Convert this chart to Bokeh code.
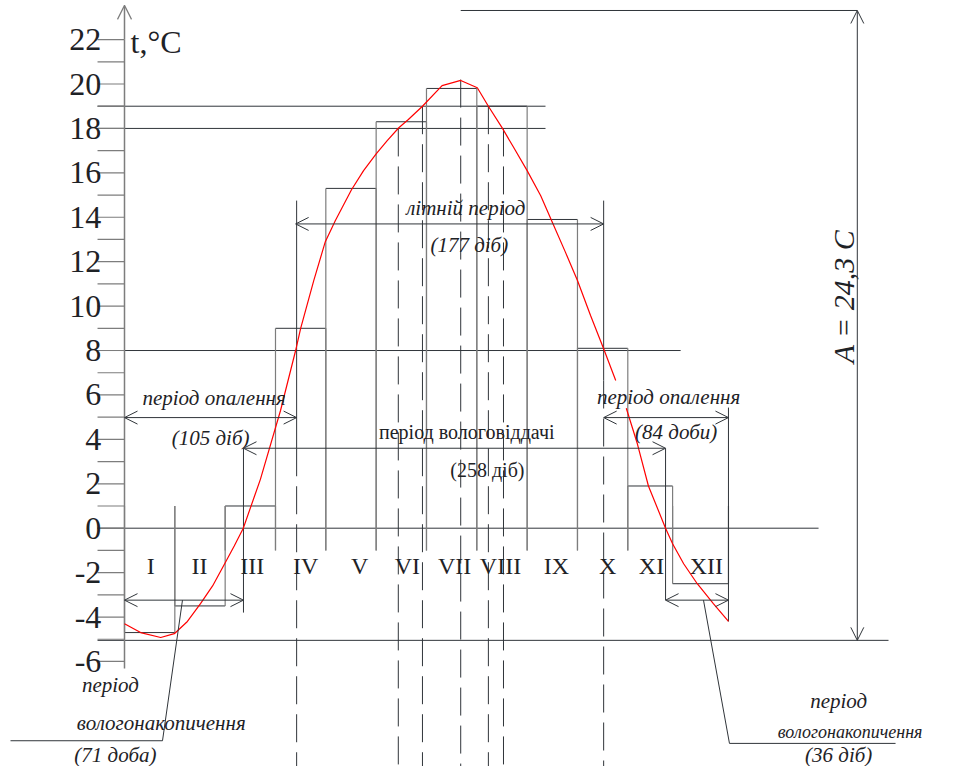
import numpy as np
from bokeh.plotting import figure
from bokeh.models import Range1d, Arrow, OpenHead, ColumnDataSource
from bokeh.core.properties import value
from bokeh.embed import file_html
from bokeh.resources import INLINE

# ---------------- data ----------------
months = ["I", "II", "III", "IV", "V", "VI", "VII", "VIII", "IX", "X", "XI", "XII"]
month_temp = [-4.7, -3.5, 1.0, 9.0, 15.3, 18.3, 19.8, 19.0, 13.9, 8.1, 1.9, -2.5]
bar_left = [0, 1, 2, 3, 4, 5, 6, 7, 8, 9, 10, 10.89]
bar_right = [1, 2, 3, 4, 5, 6, 7, 8, 9, 10, 10.89, 12]

# smooth annual course of temperature (red curve), x in months
curve1_m = [0.00, 0.32, 0.72, 0.99, 1.25, 1.51, 1.75, 1.99, 2.18, 2.36, 2.70, 3.10, 3.40,
            3.50, 3.76, 3.99, 4.19, 4.51, 4.75, 5.00, 5.22, 5.45, 5.64, 5.92, 6.31, 6.68,
            7.01, 7.23, 7.51, 7.73, 8.00, 8.27, 8.50, 8.76, 9.00, 9.26, 9.52, 9.76]
curve1_t = [-4.30, -4.70, -4.92, -4.75, -4.20, -3.40, -2.60, -1.60, -0.80, 0.00, 2.20, 5.30, 8.00,
            9.00, 11.15, 12.90, 13.85, 15.24, 16.10, 16.85, 17.45, 18.03, 18.40, 19.00, 19.93, 20.16,
            19.83, 19.00, 18.00, 17.15, 16.10, 14.97, 13.78, 12.43, 11.15, 9.58, 8.08, 6.65]
curve2_m = [9.97, 10.19, 10.41, 10.75, 10.89, 11.11, 11.38, 11.70, 12.00]
curve2_t = [5.40, 3.80, 1.90, 0.00, -0.70, -1.60, -2.50, -3.40, -4.20]

y_ticks = list(range(-6, 23))
y_label_values = list(range(-6, 23, 2))
y_tick_labels = [str(v) for v in y_label_values]

comfort_levels = [19.0, 18.0]
mean_temp = 8.0
min_temp = -5.05
amp_top = 23.31

# characteristic moments (months)
t_cross_mean_up = 3.42
t_cross_mean_down = 9.52
t_cross_zero_up = 2.364
t_cross_zero_down = 10.75
dash_m = [3.42, 5.44, 5.92, 6.68, 7.23, 7.53, 9.52]
dash_top = [3.6, 18.0, 19.0, 20.2, 19.0, 18.0, 6.65]

# ---------------- figure ----------------
DARK = "#30353a"
GREY = "#7d7d7d"
TXT = "#1e2226"

p = figure(width=943, height=766,
           x_range=Range1d(-2.4638, 16.2726), y_range=Range1d(-10.73, 23.76),
           output_backend="svg", toolbar_location=None,
           x_axis_type=None, y_axis_type=None, min_border=0)
p.outline_line_color = None
p.background_fill_color = "white"
p.border_fill_color = "white"

# horizontal reference lines
x_left_ext = -0.536
p.segment(x0=[x_left_ext] * 2, y0=comfort_levels, x1=[8.365] * 2, y1=comfort_levels,
          line_color=DARK, line_width=1)
p.segment(x0=[x_left_ext], y0=[mean_temp], x1=[11.05], y1=[mean_temp], line_color=DARK, line_width=1)
p.segment(x0=[x_left_ext], y0=[0], x1=[13.79], y1=[0], line_color=DARK, line_width=1)
p.segment(x0=[x_left_ext], y0=[min_temp], x1=[15.18], y1=[min_temp], line_color=DARK, line_width=1)
p.segment(x0=[6.68], y0=[amp_top], x1=[14.56], y1=[amp_top], line_color=DARK, line_width=1)

# monthly bars (stepped outline)
base = [-1.0 if t > 0 else 1.0 for t in month_temp]
p.segment(x0=bar_left, y0=month_temp, x1=bar_right, y1=month_temp, line_color=DARK, line_width=1)
p.segment(x0=bar_left, y0=month_temp, x1=bar_left, y1=base, line_color=GREY, line_width=1.2)
p.segment(x0=bar_right, y0=month_temp, x1=bar_right, y1=base, line_color=GREY, line_width=1.2)

# dashed verticals at characteristic moments
p.segment(x0=dash_m, y0=dash_top, x1=dash_m, y1=[-11.6] * len(dash_m),
          line_color=DARK, line_width=1, line_dash="28 10")

# solid extension lines
ext_x = [t_cross_zero_up, t_cross_zero_down, t_cross_mean_up, t_cross_mean_down, 12.0]
ext_top = [3.6, 3.6, 14.75, 14.75, 5.43]
ext_bot = [-3.8, -3.24, 3.6, 6.65, -4.2]
p.segment(x0=ext_x, y0=ext_top, x1=ext_x, y1=ext_bot, line_color=DARK, line_width=1)

# y axis with ticks
p.segment(x0=[0], y0=[-6.32], x1=[0], y1=[22], line_color=GREY, line_width=1.5)
p.add_layout(Arrow(end=OpenHead(size=14, line_color=GREY, line_width=1.2),
                   x_start=0, y_start=22, x_end=0, y_end=23.54,
                   line_color=GREY, line_width=1.5))
p.segment(x0=[x_left_ext] * len(y_ticks), y0=y_ticks, x1=[0] * len(y_ticks), y1=y_ticks,
          line_color=GREY, line_width=1.2)
p.text(x=[-0.46] * len(y_tick_labels), y=y_label_values, text=y_tick_labels,
       text_font=value("Liberation Serif"), text_font_size="32px",
       text_align="right", text_baseline="middle", text_color=TXT)
p.text(x=[0.12], y=[21.9], text=["t,°C"], text_font=value("Liberation Serif"),
       text_font_size="32px", text_align="left", text_baseline="middle", text_color=TXT)

# red curve
p.line(curve1_m, curve1_t, line_color="red", line_width=1.2)
p.line(curve2_m, curve2_t, line_color="red", line_width=1.2)

# leader lines
p.line([1.152, 0.755, -2.265], [-3.24, -9.57, -9.57], line_color=DARK, line_width=1)
p.line([11.504, 12.02, 15.32], [-3.24, -9.69, -9.69], line_color=DARK, line_width=1)

# dimension arrows
def dim(x0, y0, x1, y1, color=DARK):
    p.add_layout(Arrow(start=OpenHead(size=13, line_color=color, line_width=1),
                       end=OpenHead(size=13, line_color=color, line_width=1),
                       x_start=x0, y_start=y0, x_end=x1, y_end=y1,
                       line_color=color, line_width=1))

dim(0, 4.98, t_cross_mean_up, 4.98)
dim(t_cross_zero_up, 3.6, t_cross_zero_down, 3.6)
dim(3.40, 13.7, t_cross_mean_down, 13.7)
dim(t_cross_mean_down, 4.98, 12.0, 4.98)
dim(0, -3.24, t_cross_zero_up, -3.24)
dim(t_cross_zero_down, -3.24, 12.0, -3.24)
dim(14.56, min_temp, 14.56, amp_top)

# month numerals
month_label_m = [0.52, 1.49, 2.54, 3.60, 4.67, 5.62, 6.56, 7.47, 8.58, 9.60, 10.47, 11.56]
p.text(x=month_label_m, y=[-1.69] * 12, text=months, text_font=value("Liberation Serif"),
       text_font_size="24px", text_align="center", text_baseline="middle", text_color=TXT)

# italic annotations
ital = ColumnDataSource(dict(
    x=[1.78, 1.71, 6.78, 6.85, 10.81, 10.96, -0.28, 0.73, -0.18, 14.19, 14.19],
    y=[5.84, 4.04, 14.43, 12.77, 5.89, 4.31, -7.04, -8.76, -10.2, -7.8, -10.2],
    text=["період опалення", "(105 діб)", "літній період", "(177 діб)",
          "період опалення", "(84 доби)", "період", "вологонакопичення", "(71 доба)",
          "період", "(36 діб)"],
))
p.text(x="x", y="y", text="text", source=ital, text_font=value("Liberation Serif"),
       text_font_style="italic", text_font_size="21px", text_align="center",
       text_baseline="middle", text_color=TXT)
p.text(x=[12.98], y=[-9.16], text=["вологонакопичення"], text_font=value("Liberation Serif"),
       text_font_style="italic", text_font_size="18px", text_align="left",
       text_baseline="middle", text_color=TXT)

# upright annotation in the middle
p.text(x=[6.80, 7.21], y=[4.31, 2.60], text=["період вологовіддачі", "(258 діб)"],
       text_font=value("Liberation Serif"), text_font_size="20px",
       text_align="center", text_baseline="middle", text_color=TXT)

# amplitude label
p.text(x=[14.28], y=[10.43], text=["A = 24,3 C"], angle=[np.pi / 2],
       text_font=value("Liberation Serif"), text_font_style="italic", text_font_size="30px",
       text_align="center", text_baseline="middle", text_color=TXT)

open("out.html", "w").write(file_html(p, INLINE))
